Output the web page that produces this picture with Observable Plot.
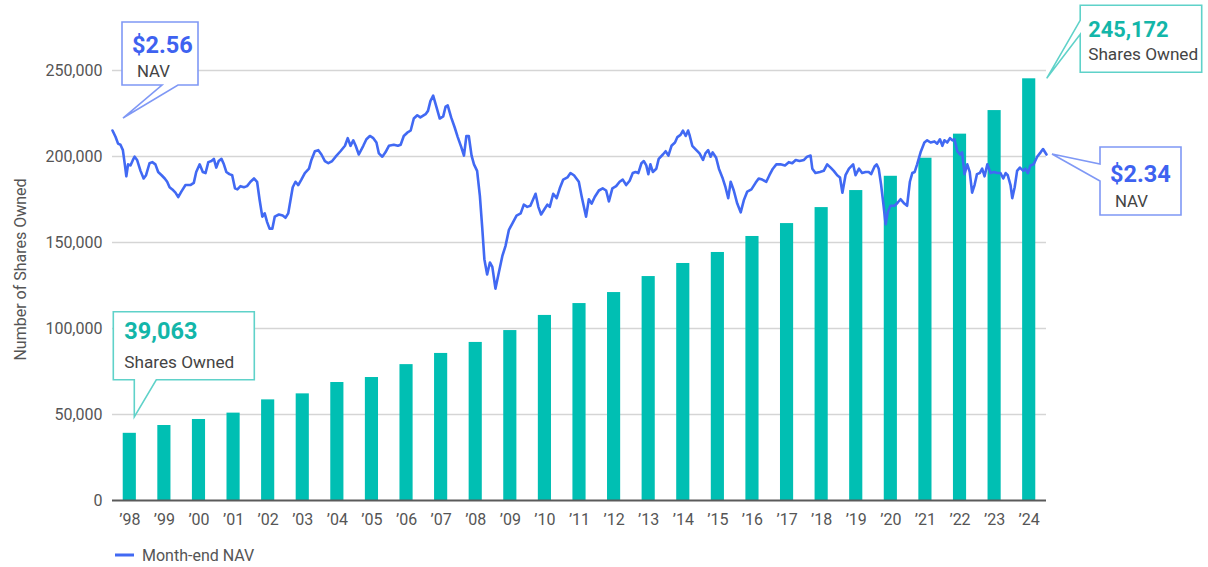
<!DOCTYPE html>
<html><head><meta charset="utf-8">
<script src="https://cdn.jsdelivr.net/npm/d3@7"></script>
<script src="https://cdn.jsdelivr.net/npm/@observablehq/plot@0.6"></script>
<style>
html,body{margin:0;padding:0;background:#fff;}
#wrap{position:relative;width:1208px;height:567px;overflow:hidden;}
#legend{position:absolute;left:115px;top:545px;display:flex;align-items:center;color:#555;white-space:nowrap;}
</style></head><body><div id="wrap"><div id="chart"></div><div id="legend"></div></div>
<script>
// ---- data ----
const years = [1998,1999,2000,2001,2002,2003,2004,2005,2006,2007,2008,2009,2010,2011,2012,2013,2014,2015,2016,2017,2018,2019,2020,2021,2022,2023,2024];
const sharesOwned = [39063,43600,47100,50800,58500,62000,68600,71500,79000,85500,91900,98800,107600,114500,120900,130200,137800,144200,153500,161000,170300,180200,188500,199000,213000,226700,245172];
const yTicks = [0,50000,100000,150000,200000,250000];
const yLabel = "Number of Shares Owned";
// month-end NAV: [decimal year, NAV $]
const navSeries = [
[1998.00,2.56],[1998.09,2.50],[1998.16,2.44],[1998.23,2.43],[1998.30,2.38],[1998.36,2.24],[1998.40,2.14],[1998.45,2.25],[1998.52,2.24],[1998.59,2.29],[1998.64,2.32],[1998.71,2.29],[1998.81,2.19],[1998.90,2.12],[1998.97,2.15],
[1999.07,2.26],[1999.15,2.27],[1999.24,2.25],[1999.32,2.18],[1999.42,2.15],[1999.51,2.12],[1999.58,2.09],[1999.65,2.04],[1999.73,2.02],[1999.82,1.99],[1999.90,1.95],[1999.99,2.00],
[2000.11,2.06],[2000.25,2.06],[2000.35,2.08],[2000.42,2.18],[2000.52,2.25],[2000.61,2.18],[2000.69,2.17],[2000.77,2.27],[2000.86,2.28],[2000.93,2.30],
[2001.00,2.22],[2001.07,2.28],[2001.15,2.30],[2001.22,2.25],[2001.29,2.18],[2001.38,2.16],[2001.46,2.15],[2001.54,2.03],[2001.61,2.02],[2001.70,2.05],[2001.80,2.04],[2001.89,2.05],[2001.99,2.09],
[2002.09,2.12],[2002.18,2.09],[2002.25,1.93],[2002.33,1.77],[2002.40,1.80],[2002.47,1.72],[2002.54,1.66],[2002.62,1.66],[2002.69,1.77],[2002.81,1.79],[2002.92,1.78],
[2003.00,1.76],[2003.08,1.80],[2003.15,1.93],[2003.21,2.04],[2003.29,2.09],[2003.37,2.06],[2003.46,2.11],[2003.56,2.17],[2003.68,2.21],[2003.75,2.29],[2003.85,2.37],[2003.95,2.38],
[2004.04,2.34],[2004.14,2.28],[2004.24,2.26],[2004.35,2.28],[2004.45,2.32],[2004.59,2.37],[2004.72,2.42],[2004.80,2.49],[2004.88,2.42],[2004.96,2.47],
[2005.03,2.42],[2005.12,2.34],[2005.25,2.42],[2005.34,2.48],[2005.44,2.51],[2005.54,2.49],[2005.63,2.45],[2005.70,2.35],[2005.80,2.32],[2005.89,2.36],[2005.99,2.42],
[2006.13,2.43],[2006.25,2.42],[2006.33,2.43],[2006.42,2.51],[2006.52,2.54],[2006.62,2.56],[2006.71,2.67],[2006.81,2.70],[2006.90,2.68],
[2007.05,2.71],[2007.12,2.74],[2007.19,2.83],[2007.27,2.88],[2007.37,2.77],[2007.46,2.67],[2007.56,2.69],[2007.63,2.78],[2007.69,2.79],[2007.79,2.68],[2007.89,2.59],[2007.98,2.50],
[2008.08,2.41],[2008.16,2.33],[2008.23,2.51],[2008.30,2.51],[2008.38,2.33],[2008.45,2.25],[2008.54,2.19],[2008.62,1.96],[2008.69,1.66],[2008.75,1.38],[2008.83,1.24],[2008.91,1.35],[2008.98,1.31],
[2009.07,1.11],[2009.17,1.26],[2009.27,1.41],[2009.36,1.50],[2009.46,1.65],[2009.58,1.72],[2009.68,1.78],[2009.80,1.80],[2009.89,1.88],[2009.99,1.86],
[2010.08,1.87],[2010.23,1.98],[2010.31,1.86],[2010.39,1.79],[2010.49,1.84],[2010.57,1.88],[2010.64,1.86],[2010.74,1.98],[2010.84,1.94],[2010.93,2.03],
[2011.03,2.11],[2011.15,2.13],[2011.24,2.17],[2011.34,2.15],[2011.48,2.09],[2011.56,1.96],[2011.62,1.87],[2011.69,1.77],[2011.77,1.93],[2011.85,1.89],[2011.94,1.95],
[2012.06,2.01],[2012.17,2.03],[2012.27,2.01],[2012.35,1.91],[2012.45,2.03],[2012.56,2.05],[2012.66,2.09],[2012.75,2.11],[2012.85,2.06],[2012.95,2.10],
[2013.04,2.17],[2013.12,2.18],[2013.20,2.17],[2013.29,2.26],[2013.36,2.28],[2013.43,2.24],[2013.49,2.16],[2013.55,2.25],[2013.62,2.18],[2013.72,2.21],[2013.79,2.30],[2013.91,2.34],[2013.99,2.37],
[2014.07,2.33],[2014.16,2.42],[2014.26,2.45],[2014.33,2.50],[2014.42,2.52],[2014.49,2.56],[2014.57,2.51],[2014.64,2.56],[2014.68,2.52],[2014.76,2.42],[2014.85,2.39],[2014.97,2.35],
[2015.07,2.29],[2015.14,2.35],[2015.22,2.38],[2015.29,2.32],[2015.35,2.36],[2015.45,2.31],[2015.53,2.21],[2015.63,2.13],[2015.72,2.04],[2015.80,1.94],[2015.87,2.09],[2015.96,2.01],
[2016.06,1.89],[2016.16,1.81],[2016.25,1.92],[2016.35,2.00],[2016.47,2.02],[2016.59,2.08],[2016.68,2.12],[2016.78,2.11],[2016.90,2.09],[2016.99,2.15],
[2017.09,2.21],[2017.19,2.25],[2017.31,2.25],[2017.44,2.24],[2017.55,2.27],[2017.65,2.26],[2017.75,2.29],[2017.86,2.28],[2017.99,2.29],
[2018.08,2.32],[2018.18,2.33],[2018.23,2.21],[2018.32,2.17],[2018.45,2.18],[2018.56,2.19],[2018.66,2.25],[2018.76,2.22],[2018.85,2.19],[2018.95,2.15],
[2019.03,2.13],[2019.10,1.99],[2019.19,2.15],[2019.29,2.21],[2019.41,2.25],[2019.48,2.15],[2019.58,2.21],[2019.67,2.17],[2019.77,2.18],[2019.86,2.18],[2019.93,2.16],
[2020.03,2.23],[2020.09,2.25],[2020.15,2.21],[2020.22,2.06],[2020.28,1.90],[2020.35,1.70],[2020.41,1.81],[2020.49,1.87],[2020.61,1.87],[2020.70,1.90],[2020.78,1.93],[2020.89,1.89],[2020.97,1.87],
[2021.05,2.09],[2021.12,2.17],[2021.19,2.18],[2021.26,2.25],[2021.36,2.36],[2021.47,2.45],[2021.55,2.47],[2021.65,2.45],[2021.76,2.46],[2021.84,2.44],[2021.92,2.48],[2021.99,2.42],
[2022.05,2.47],[2022.13,2.45],[2022.21,2.49],[2022.28,2.47],[2022.34,2.48],[2022.42,2.37],[2022.50,2.34],[2022.56,2.36],[2022.63,2.16],[2022.71,2.25],[2022.78,2.18],[2022.85,1.99],[2022.92,2.06],[2022.99,2.16],
[2023.07,2.17],[2023.14,2.21],[2023.21,2.14],[2023.29,2.25],[2023.38,2.17],[2023.48,2.18],[2023.58,2.17],[2023.67,2.17],[2023.75,2.12],[2023.82,2.17],[2023.88,2.15],[2023.96,2.06],
[2024.01,1.94],[2024.08,2.04],[2024.15,2.19],[2024.23,2.22],[2024.33,2.19],[2024.39,2.21],[2024.46,2.17],[2024.54,2.24],[2024.63,2.25],[2024.73,2.32],[2024.83,2.36],[2024.90,2.39],[2025.00,2.34]
];
const navStart = 2.56, navEnd = 2.34;
const navAxisDomain = [0, 3];            // hidden NAV axis ($)
const navAxisOnShares = [52800, 243000]; // where that NAV axis sits on the shares axis

// ---- font detection ----
function hasFont(name){
  const c = document.createElement("canvas").getContext("2d");
  const s = "Shares Owned 0123456789";
  c.font = "40px monospace"; const a = c.measureText(s).width;
  c.font = `40px "${name}", monospace`; const b = c.measureText(s).width;
  return Math.abs(a-b) > 0.5;
}
const narrow = hasFont("Liberation Sans Narrow");
const FONT = narrow ? '"Liberation Sans Narrow", sans-serif' : 'Roboto, "Liberation Sans", sans-serif';
const K = narrow ? 1 : 0.84;
const fs = v => (v*K).toFixed(1) + "px";

// ---- colors ----
const TEAL = "#00bfb3", TEAL_TXT = "#13b6a9", TEAL_BOX = "#5fd2c9";
const BLUE = "#4169f3", BLUE_TXT = "#3e62f0", BLUE_BOX = "#7f98f5";
const GRAY = "#555";

// ---- build ----
const nav2s = d3.scaleLinear().domain(navAxisDomain).range(navAxisOnShares);
const bars = years.map((y,i) => ({year:y, shares:sharesOwned[i]}));
const nav = navSeries.map(([t,v]) => ({t, v, s: nav2s(v)}));
const W = 1208, H = 540;
const half = 0.19;

const plot = Plot.plot({
  width: W, height: H,
  marginLeft: 112, marginRight: 162, marginTop: 70, marginBottom: 40,
  x: {type: "linear", domain: [1998, 2025]},
  y: {domain: [0, 250000]},
  style: {fontFamily: FONT, fontSize: fs(19), color: GRAY, background: "#fff", overflow: "visible"},
  marks: [
    Plot.ruleY(yTicks.filter(d => d > 0), {stroke: "#d5d5d5", strokeWidth: 1.6}),
    Plot.rect(bars, {x1: d => d.year + 0.5 - half, x2: d => d.year + 0.5 + half, y1: d => 0, y2: "shares", fill: TEAL}),
    Plot.ruleY([0], {stroke: "#5a5a5a", strokeWidth: 2}),
    Plot.line(nav, {x: "t", y: "s", stroke: BLUE, strokeWidth: 2.6, strokeLinejoin: "round"}),
    Plot.axisY({ticks: yTicks, tickFormat: d3.format(","), tickSize: 0, tickPadding: 10, label: null, fill: GRAY}),
    Plot.axisX({ticks: years.map(y => y + 0.5), tickFormat: d => "\u2019" + String(Math.floor(d)).slice(2),
      tickSize: 0, tickPadding: 13, label: null, fill: GRAY})
  ]
});
document.getElementById("chart").appendChild(plot);

// ---- callouts & axis title ----
const xs = plot.scale("x"), ys = plot.scale("y");
const svg = d3.select(plot);
const g = svg.append("g").attr("class", "callouts").attr("text-anchor", "start");

svg.append("text")
  .attr("transform", `translate(26,${ys.apply(134000)}) rotate(-90)`)
  .attr("text-anchor", "middle").attr("font-family", FONT).attr("font-size", fs(19))
  .attr("fill", GRAY).text(yLabel);

function callout(o){
  const [ax, ay] = o.anchor;
  const x0 = ax + o.box[0], y0 = ay + o.box[1], x1 = ax + o.box[2], y1 = ay + o.box[3];
  const tx = ax + o.tip[0], ty = ay + o.tip[1];
  let p;
  if (o.side === "bottom") {
    const b1 = ax + o.base[0], b2 = ax + o.base[1];
    p = `M${x0},${y0}H${x1}V${y1}H${b2}L${tx},${ty}L${b1},${y1}H${x0}Z`;
  } else {
    const b1 = ay + o.base[0], b2 = ay + o.base[1];
    p = `M${x0},${y0}H${x1}V${y1}H${x0}V${b2}L${tx},${ty}L${x0},${b1}Z`;
  }
  g.append("path").attr("d", p).attr("fill", "#fff").attr("stroke", o.stroke).attr("stroke-width", 1.6).attr("stroke-linejoin", "miter");
  for (const t of o.lines) {
    g.append("text").attr("x", ax + t.dx).attr("y", ay + t.dy).attr("text-anchor", "start")
      .attr("font-family", FONT).attr("font-size", fs(t.size)).attr("font-weight", t.bold ? 700 : 400)
      .attr("fill", t.color).text(t.text);
  }
}

const aStart = [xs.apply(navSeries[0][0]), ys.apply(nav2s(navStart))];
const aEnd = [xs.apply(navSeries[navSeries.length-1][0]), ys.apply(nav2s(navEnd))];
const aFirst = [xs.apply(years[0] + 0.5), ys.apply(sharesOwned[0])];
const aLast = [xs.apply(years[years.length-1] + 0.5), ys.apply(sharesOwned[sharesOwned.length-1])];

callout({anchor: aStart, side: "bottom", box: [10, -108, 86, -45], base: [50, 66], tip: [11, -12], stroke: BLUE_BOX,
  lines: [{text: "$" + navStart.toFixed(2), dx: 20, dy: -77, size: 28, bold: true, color: BLUE_TXT},
          {text: "NAV", dx: 25, dy: -53, size: 20, color: "#444"}]});
callout({anchor: aEnd, side: "left", box: [54, -7, 135, 61], base: [10, 27], tip: [6, 0], stroke: BLUE_BOX,
  lines: [{text: "$" + navEnd.toFixed(2), dx: 64, dy: 28, size: 28, bold: true, color: BLUE_TXT},
          {text: "NAV", dx: 69, dy: 53, size: 20, color: "#444"}]});
callout({anchor: aFirst, side: "bottom", box: [-16, -121, 125, -53], base: [5, 27], tip: [5, -16], stroke: TEAL_BOX,
  lines: [{text: d3.format(",")(sharesOwned[0]), dx: -5, dy: -94, size: 28, bold: true, color: TEAL_TXT},
          {text: "Shares Owned", dx: -5, dy: -65, size: 20.5, color: "#444"}]});
callout({anchor: aLast, side: "left", box: [51.5, -73, 173, -6], base: [-58, -44], tip: [18, 0], stroke: TEAL_BOX,
  lines: [{text: d3.format(",")(sharesOwned[sharesOwned.length-1]), dx: 59.5, dy: -41, size: 26, bold: true, color: TEAL_TXT},
          {text: "Shares Owned", dx: 59.5, dy: -18, size: 20.5, color: "#444"}]});

// ---- legend ----
const lg = document.getElementById("legend");
lg.style.fontFamily = FONT; lg.style.fontSize = fs(19);
lg.innerHTML = `<svg width="26" height="20" style="margin-right:1px"><line x1="0" x2="19" y1="10" y2="10" stroke="${BLUE}" stroke-width="3"/></svg><span>Month-end NAV</span>`;
</script></body></html>
